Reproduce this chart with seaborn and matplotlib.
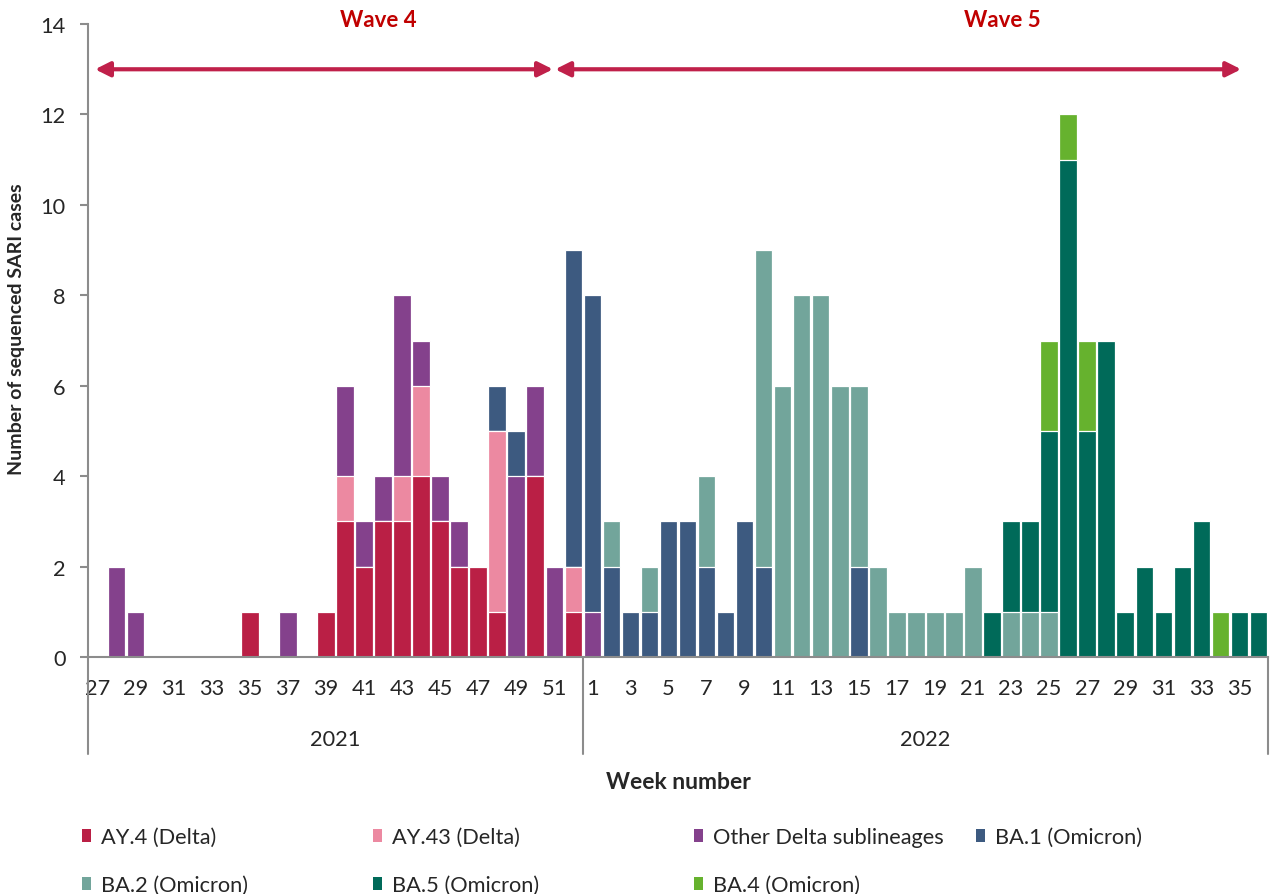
import numpy as np
import pandas as pd
import seaborn as sns
import matplotlib.pyplot as plt
from matplotlib.patches import Patch
from matplotlib.transforms import blended_transform_factory

# weeks shown on the x axis: 2021 wk 27-52, then 2022 wk 1-36
weeks_2021 = list(range(27, 53))
weeks_2022 = list(range(1, 37))

# sequenced SARI cases per week and lineage (2021 part + 2022 part)
ay4 = [0, 0, 0, 0, 0, 0, 0, 0, 1, 0, 0, 0, 1, 3, 2, 3, 3, 4, 3, 2, 2, 1, 0, 4, 0, 1] + \
      [0, 0, 0, 0, 0, 0, 0, 0, 0, 0, 0, 0, 0, 0, 0, 0, 0, 0, 0, 0, 0, 0, 0, 0, 0, 0, 0, 0, 0, 0, 0, 0, 0, 0, 0, 0]
ay43 = [0, 0, 0, 0, 0, 0, 0, 0, 0, 0, 0, 0, 0, 1, 0, 0, 1, 2, 0, 0, 0, 4, 0, 0, 0, 1] + \
       [0, 0, 0, 0, 0, 0, 0, 0, 0, 0, 0, 0, 0, 0, 0, 0, 0, 0, 0, 0, 0, 0, 0, 0, 0, 0, 0, 0, 0, 0, 0, 0, 0, 0, 0, 0]
other_delta = [0, 2, 1, 0, 0, 0, 0, 0, 0, 0, 1, 0, 0, 2, 1, 1, 4, 1, 1, 1, 0, 0, 4, 2, 2, 0] + \
              [1, 0, 0, 0, 0, 0, 0, 0, 0, 0, 0, 0, 0, 0, 0, 0, 0, 0, 0, 0, 0, 0, 0, 0, 0, 0, 0, 0, 0, 0, 0, 0, 0, 0, 0, 0]
ba1 = [0, 0, 0, 0, 0, 0, 0, 0, 0, 0, 0, 0, 0, 0, 0, 0, 0, 0, 0, 0, 0, 1, 1, 0, 0, 7] + \
      [7, 2, 1, 1, 3, 3, 2, 1, 3, 2, 0, 0, 0, 0, 2, 0, 0, 0, 0, 0, 0, 0, 0, 0, 0, 0, 0, 0, 0, 0, 0, 0, 0, 0, 0, 0]
ba2 = [0, 0, 0, 0, 0, 0, 0, 0, 0, 0, 0, 0, 0, 0, 0, 0, 0, 0, 0, 0, 0, 0, 0, 0, 0, 0] + \
      [0, 1, 0, 1, 0, 0, 2, 0, 0, 7, 6, 8, 8, 6, 4, 2, 1, 1, 1, 1, 2, 0, 1, 1, 1, 0, 0, 0, 0, 0, 0, 0, 0, 0, 0, 0]
ba5 = [0, 0, 0, 0, 0, 0, 0, 0, 0, 0, 0, 0, 0, 0, 0, 0, 0, 0, 0, 0, 0, 0, 0, 0, 0, 0] + \
      [0, 0, 0, 0, 0, 0, 0, 0, 0, 0, 0, 0, 0, 0, 0, 0, 0, 0, 0, 0, 0, 1, 2, 2, 4, 11, 5, 7, 1, 2, 1, 2, 3, 0, 1, 1]
ba4 = [0, 0, 0, 0, 0, 0, 0, 0, 0, 0, 0, 0, 0, 0, 0, 0, 0, 0, 0, 0, 0, 0, 0, 0, 0, 0] + \
      [0, 0, 0, 0, 0, 0, 0, 0, 0, 0, 0, 0, 0, 0, 0, 0, 0, 0, 0, 0, 0, 0, 0, 0, 2, 1, 2, 0, 0, 0, 0, 0, 0, 1, 0, 0]

lineages = ["AY.4 (Delta)", "AY.43 (Delta)", "Other Delta sublineages", "BA.1 (Omicron)",
            "BA.2 (Omicron)", "BA.5 (Omicron)", "BA.4 (Omicron)"]
colors = ["#BA1F45", "#EC89A1", "#84418C", "#3D5A80", "#72A59B", "#006A59", "#66B22E"]

keys = [f"2021-{w}" for w in weeks_2021] + [f"2022-{w}" for w in weeks_2022]
df = pd.DataFrame(dict(zip(lineages, [ay4, ay43, other_delta, ba1, ba2, ba5, ba4])), index=keys)
cum = df.cumsum(axis=1)

sns.set_style("white")
plt.rcParams['font.family'] = ['Lato', 'DejaVu Sans']

fig = plt.figure(figsize=(12.7, 8.95), dpi=100)
ax = fig.add_axes([0.0693, 0.2648, 0.9291, 0.7072])

# stacked bars: draw cumulative totals from the top layer down
for lin, col in reversed(list(zip(lineages, colors))):
    sns.barplot(x=keys, y=cum[lin].values, order=keys, color=col, saturation=1,
                width=0.92, edgecolor="white", linewidth=0.9, ax=ax)

gray = "#8C8C8C"
fs = 15.7
ax.set_ylim(0, 14)
ax.set_xlim(-0.5, len(keys) - 0.5)
ax.set_yticks(range(0, 15, 2))
for s in ["top", "right"]:
    ax.spines[s].set_visible(False)
for s in ["left", "bottom"]:
    ax.spines[s].set_color(gray)
    ax.spines[s].set_linewidth(1.5)
ax.tick_params(axis="y", left=True, length=6, width=1.5, color=gray, pad=10, labelsize=fs)

tick_pos = [i for i, k in enumerate(keys) if int(k.split("-")[1]) % 2 == 1]
ax.set_xticks(tick_pos)
ax.set_xticklabels([keys[i].split("-")[1] for i in tick_pos])
ax.tick_params(axis="x", length=0, pad=15, labelsize=fs)

# year separators and labels under the axis
trans = blended_transform_factory(ax.transData, ax.transAxes)
for xs in [-0.5, len(weeks_2021) - 0.5, len(keys) - 0.5]:
    ax.plot([xs, xs], [0, -0.153], transform=trans, color=gray, lw=1.5, clip_on=False)
ax.text((len(weeks_2021) - 1) / 2, -0.13, "2021", transform=trans, ha="center", va="center", fontsize=fs)
ax.text(len(weeks_2021) + (len(weeks_2022) - 1) / 2, -0.13, "2022", transform=trans,
        ha="center", va="center", fontsize=fs)

ax.set_ylabel("Number of sequenced SARI cases", fontsize=14, fontweight="bold")
ax.yaxis.set_label_coords(-0.053, 0.52)
ax.set_xlabel("Week number", fontsize=16.5, fontweight="bold")
ax.xaxis.set_label_coords(0.5, -0.18)

# wave arrows
wave_col = "#C0204A"
ax.annotate("", xy=(23.93, 13), xytext=(-0.13, 13), annotation_clip=False,
            arrowprops=dict(arrowstyle="<|-|>", color=wave_col, lw=3, mutation_scale=22, shrinkA=0, shrinkB=0))
ax.annotate("", xy=(60.09, 13), xytext=(24.05, 13), annotation_clip=False,
            arrowprops=dict(arrowstyle="<|-|>", color=wave_col, lw=3, mutation_scale=22, shrinkA=0, shrinkB=0))
ax.text(14.74, 14.1, "Wave 4", color="#C00000", fontsize=16, fontweight="bold", ha="center", va="center", clip_on=False)
ax.text(47.53, 14.1, "Wave 5", color="#C00000", fontsize=16, fontweight="bold", ha="center", va="center", clip_on=False)

# legend in Excel-like columns
handles = [Patch(facecolor=c, edgecolor="none") for c in colors]
columns = [([0, 4], 0.0646), ([1, 5], 0.2937), ([2, 6], 0.5465), ([3], 0.7685)]
for idx, xpos in columns:
    fig.legend([handles[i] for i in idx], [lineages[i] for i in idx], loc="upper left",
               bbox_to_anchor=(xpos, 0.075), frameon=False, fontsize=fs, borderpad=0,
               borderaxespad=0, handlelength=0.42, handleheight=0.55, handletextpad=0.45,
               labelspacing=1.3)

plt.savefig("out.png", dpi=100)
